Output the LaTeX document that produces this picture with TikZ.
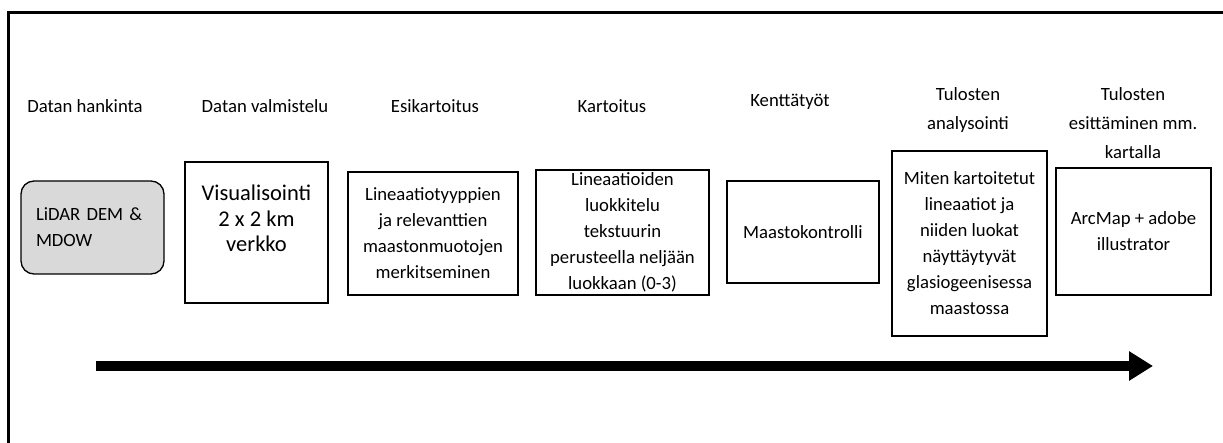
\documentclass[tikz,border=0pt]{standalone}
\usepackage{fontspec}
\setmainfont{Carlito}
\usetikzlibrary{calc,arrows.meta}

\tikzset{
  phase/.style={align=center, inner sep=0pt, font=\fontsize{18.7}{29}\selectfont},
  stepbox/.style={draw, line width=1.3pt, align=center, inner sep=0pt, font=\fontsize{18.7}{26}\selectfont},
  databox/.style={stepbox, rounded corners=13pt, fill=black!15, align=left, inner xsep=15pt, text width=113pt},
  timeline/.style={line width=10pt, -{Triangle[length=24pt,width=28pt]}}
}

\begin{document}
\begin{tikzpicture}[x=1pt, y=-1pt]
  \useasboundingbox (0,0) rectangle (1223,443);
  \draw[line width=3pt] (1223,13) -- (8,13) -- (8,443);
  % phases
  \node[phase] (h1) at (85,106.5) {Datan hankinta};
  \node[phase] (h2) at (265,106.5) {Datan valmistelu};
  \node[phase] (h3) at (435,106.5) {Esikartoitus};
  \node[phase] (h4) at (612,106.5) {Kartoitus};
  \node[phase] (h5) at (790,102) {Kenttätyöt};
  \node[phase] (h6) at (968,110.5) {Tulosten\\analysointi};
  \node[phase] (h7) at (1133,123) {Tulosten\\esittäminen mm.\\kartalla};
  % steps
  \node[databox, minimum height=93pt] (lidar) at (92.5,227.5) {LiDAR DEM \&\\MDOW};
  \node[stepbox, minimum width=143pt, minimum height=141pt] (vis) at (256.5,232.5) {};
  \node[align=center, inner sep=0pt, font=\fontsize{22.5}{25.5}\selectfont] (vistext) at (256.5,218.5) {Visualisointi\\2 x 2 km\\verkko};
  \node[stepbox, minimum width=170pt, minimum height=123pt] (esik) at (433,233.5) {Lineaatiotyyppien\\ja relevanttien\\maastonmuotojen\\merkitseminen};
  \node[stepbox, minimum width=173pt, minimum height=125pt] (kart) at (622.5,232.5) {Lineaatioiden\\luokkitelu\\tekstuurin\\perusteella neljään\\luokkaan (0-3)};
  \node[stepbox, minimum width=152pt, minimum height=102pt] (kentta) at (803,232) {Maastokontrolli};
  \node[stepbox, minimum width=155pt, minimum height=185pt] (anal) at (969.5,243.5) {Miten kartoitetut\\lineaatiot ja\\niiden luokat\\näyttäytyvät\\glasiogeenisessa\\maastossa};
  \node[stepbox, minimum width=155pt, minimum height=127pt] (esit) at (1133.5,231.5) {ArcMap + adobe\\illustrator};
  % time axis
  \coordinate (t0) at (96,366);
  \coordinate (t1) at (1153,366);
  \draw[timeline] (t0) -- (t1);
\end{tikzpicture}
\end{document}
